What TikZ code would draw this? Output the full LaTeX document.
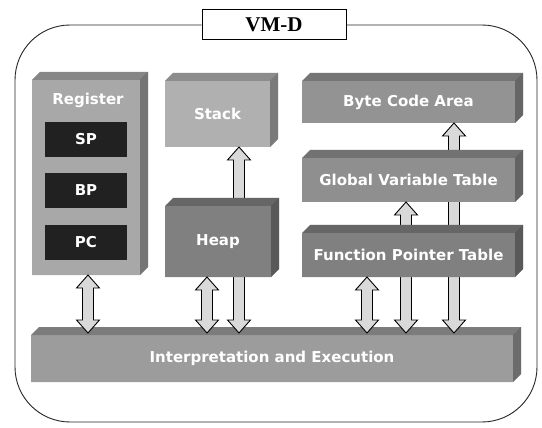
\documentclass[tikz,border=0pt]{standalone}
\usepackage{fontspec}
\newfontfamily\lblfont{DejaVu Sans}
\newfontfamily\ttlfont{Liberation Serif}
\usetikzlibrary{calc}
\definecolor{arrowgray}{gray}{0.85}
\definecolor{regdark}{gray}{0.13}
\definecolor{frameline}{gray}{0.15}
\newcommand{\cubebox}[7]{%
  \node[cubenode, minimum width={(#4-#2)*1pt}, minimum height={(#5-#3)*1pt}] (#1) at ({(#2+#4)/2},{(#3+#5)/2}) {};
  \fill[#6] ($(#1.north west)+(0pt,-8pt)$) -- ($(#1.north west)+(8pt,0pt)$) -- (#1.north east)
     -- ($(#1.south east)+(0pt,8pt)$) -- ($(#1.south east)+(-8pt,0pt)$) -- (#1.south west) -- cycle;
  \fill[black, opacity=.2] ($(#1.north west)+(0pt,-8pt)$) -- ($(#1.north west)+(8pt,0pt)$) -- (#1.north east)
     -- ($(#1.north east)+(-8pt,-8pt)$) -- cycle;
  \fill[black, opacity=.3] ($(#1.north east)+(-8pt,-8pt)$) -- (#1.north east) -- ($(#1.south east)+(0pt,8pt)$)
     -- ($(#1.south east)+(-8pt,0pt)$) -- cycle;
  \node[lbl] (#1-t) at ([xshift=-4pt,yshift=-4pt]#1.center) {#7};%
}
\newcommand{\blockarrow}[2]{%
  \path[blockarr] let \p1=#1, \p2=#2 in
    (\x1,\y1) -- (\x1+11.5pt,\y1-13pt) -- (\x1+5.5pt,\y1-13pt) -- (\x1+5.5pt,\y2+7pt)
    -- (\x1+11.5pt,\y2+7pt) -- (\x1,\y2-6pt) -- (\x1-11.5pt,\y2+7pt) -- (\x1-5.5pt,\y2+7pt)
    -- (\x1-5.5pt,\y1-13pt) -- (\x1-11.5pt,\y1-13pt) -- cycle;%
}
\begin{document}
\begin{tikzpicture}[x=1pt,y=-1pt,
  lbl/.style={text=white, font=\lblfont\bfseries\fontsize{15}{18}\selectfont, inner sep=0},
  blockarr/.style={fill=arrowgray, draw=black, line width=0.9pt, line join=miter},
  regbox/.style={fill=regdark, inner sep=0, minimum width=82pt, minimum height=35pt,
     text=white, font=\lblfont\bfseries\fontsize{15}{18}\selectfont},
  shell/.style={draw=frameline, line width=0.9pt, rounded corners=55pt},
  ttl/.style={draw=black, line width=1pt, fill=white, minimum width=144pt, minimum height=30pt,
     inner sep=0, font=\ttlfont\bfseries\fontsize{21}{24}\selectfont},
  cubenode/.style={inner sep=0, outer sep=0}]
\fill[white] (0,0) rectangle (542,428);
\useasboundingbox (0,0) rectangle (542,428);

% title and outer frame
\node[ttl] (title) at (274,25) {VM-D};
\draw[shell] (title.west) -- (15,25) -- (15,422) -- (537,422) -- (537,25) -- (title.east);

% x positions of the connectors
\coordinate (xreg) at (88,0);
\coordinate (xheap) at (207,0);
\coordinate (xstack) at (239,0);
\coordinate (xfpt) at (367,0);
\coordinate (xgvt) at (406,0);
\coordinate (xbca) at (454,0);

% bottom layer
\cubebox{interp}{31}{327}{521}{382}{gray!78}{Interpretation and Execution}

% long connectors (behind the boxes)
\cubebox{stack}{165}{73}{278}{147}{gray!62}{Stack}
\cubebox{bca}{302}{73}{523}{123}{gray!85}{Byte Code Area}
\blockarrow{(stack.south -| xstack)}{(interp.north -| xstack)}
\blockarrow{(bca.south -| xbca)}{(interp.north -| xbca)}
\cubebox{gvt}{302}{150}{523}{202}{gray!88}{Global Variable Table}
\blockarrow{(gvt.south -| xgvt)}{(interp.north -| xgvt)}

% boxes in front
\cubebox{reg}{32}{72}{148}{275}{gray!68}{}
\node[lbl] (regt) at (88,100) {Register};
\node[regbox] (sp) at (86,139.5) {SP};
\node[regbox] (bp) at (86,190.5) {BP};
\node[regbox] (pc) at (86,242.5) {PC};
\cubebox{heap}{165}{198}{279}{277}{gray!100}{Heap}
\cubebox{fpt}{302}{225}{523}{277}{gray!100}{Function Pointer Table}

% short connectors
\blockarrow{(reg.south -| xreg)}{(interp.north -| xreg)}
\blockarrow{(heap.south -| xheap)}{(interp.north -| xheap)}
\blockarrow{(fpt.south -| xfpt)}{(interp.north -| xfpt)}
\end{tikzpicture}
\end{document}
